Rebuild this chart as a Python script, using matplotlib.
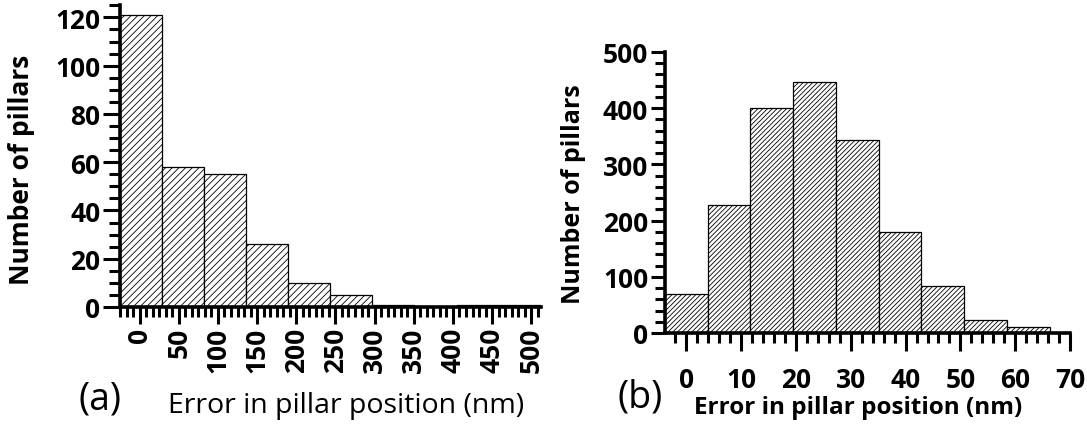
import matplotlib
matplotlib.use("Agg")
import matplotlib.pyplot as plt
from matplotlib.ticker import MultipleLocator, FixedLocator

# ---- data ----
# panel (a)
a_bin_edges = [-25, 28.7, 82.4, 136.1, 189.8, 243.5, 297.2, 350.9, 404.6, 458.3, 512]
a_counts = [121, 58, 55, 26, 10, 5, 1, 0, 1, 1]
a_xticks = [0, 50, 100, 150, 200, 250, 300, 350, 400, 450, 500]
a_yticks = [0, 20, 40, 60, 80, 100, 120]

# panel (b)
b_bin_edges = [-3.9, 3.9, 11.7, 19.5, 27.3, 35.1, 42.9, 50.7, 58.5, 66.3]
b_counts = [70, 227, 401, 446, 344, 179, 83, 23, 10]
b_xticks = [0, 10, 20, 30, 40, 50, 60, 70]
b_yticks = [0, 100, 200, 300, 400, 500]

xlabel = "Error in pillar position (nm)"
ylabel = "Number of pillars"

plt.rcParams['font.family'] = ['Open Sans', 'DejaVu Sans']
plt.rcParams['hatch.linewidth'] = 0.6
plt.rcParams['hatch.color'] = '#333333'

W, H = 1087, 427
fig = plt.figure(figsize=(W / 100, H / 100), dpi=100)

def px_axes(x0, x1, y_top, y_bot):
    return fig.add_axes([x0 / W, (H - y_bot) / H, (x1 - x0) / W, (y_bot - y_top) / H])

def style(ax):
    for s in ['top', 'right']:
        ax.spines[s].set_visible(False)
    for s in ['left', 'bottom']:
        ax.spines[s].set_linewidth(2.6)
    ax.tick_params(which='both', width=2.2, color='black')

# ---- panel (a) ----
axa = px_axes(120, 540.7, 6.3, 308)
widths_a = [a_bin_edges[i + 1] - a_bin_edges[i] for i in range(len(a_counts))]
axa.bar(a_bin_edges[:-1], a_counts, width=widths_a, align='edge',
        facecolor='white', edgecolor='black', linewidth=0.9, hatch='/////')
axa.set_xlim(a_bin_edges[0], a_bin_edges[-1])
axa.set_ylim(0, 125)
style(axa)
axa.xaxis.set_major_locator(FixedLocator(a_xticks))
axa.xaxis.set_minor_locator(MultipleLocator(50 / 6))
axa.yaxis.set_major_locator(FixedLocator(a_yticks))
axa.yaxis.set_minor_locator(MultipleLocator(5))
axa.set_xticklabels([str(v) for v in a_xticks], rotation=90, fontsize=19, fontweight='bold')
axa.set_yticklabels([str(v) for v in a_yticks], fontsize=19, fontweight='bold')
axa.tick_params(axis='x', which='major', length=12, pad=2)
axa.tick_params(axis='x', which='minor', length=7)
axa.tick_params(axis='y', which='major', length=12, pad=2)
axa.tick_params(axis='y', which='minor', length=8)

fig.text(22 / W, 1 - 170 / H, ylabel, rotation=90, ha='center', va='center',
         fontsize=19, fontweight='bold')
fig.text(346 / W, 1 - 406 / H, xlabel, ha='center', va='center', fontsize=20.5)
fig.text(100 / W, 1 - 400 / H, "(a)", ha='center', va='center', fontsize=27)

# ---- panel (b) ----
axb = px_axes(665, 1070, 53, 334)
widths_b = [b_bin_edges[i + 1] - b_bin_edges[i] for i in range(len(b_counts))]
axb.bar(b_bin_edges[:-1], b_counts, width=widths_b, align='edge',
        facecolor='white', edgecolor='black', linewidth=0.9, hatch='///////')
axb.set_xlim(b_bin_edges[0], 70)
axb.set_ylim(0, 500)
style(axb)
axb.xaxis.set_major_locator(FixedLocator(b_xticks))
axb.xaxis.set_minor_locator(MultipleLocator(2))
axb.yaxis.set_major_locator(FixedLocator(b_yticks))
axb.yaxis.set_minor_locator(MultipleLocator(20))
axb.set_xticklabels([str(v) for v in b_xticks], fontsize=19, fontweight='bold')
axb.set_yticklabels([str(v) for v in b_yticks], fontsize=19, fontweight='bold')
axb.tick_params(axis='x', which='major', length=13, pad=11)
axb.tick_params(axis='x', which='minor', length=7)
axb.tick_params(axis='y', which='major', length=10, pad=2)
axb.tick_params(axis='y', which='minor', length=7)

fig.text(573 / W, 1 - 194 / H, ylabel, rotation=90, ha='center', va='center',
         fontsize=18, fontweight='bold')
fig.text(858 / W, 1 - 408 / H, xlabel, ha='center', va='center',
         fontsize=17.5, fontweight='bold')
fig.text(640 / W, 1 - 398 / H, "(b)", ha='center', va='center', fontsize=27)

fig.savefig("out.png", dpi=100, facecolor='white')
